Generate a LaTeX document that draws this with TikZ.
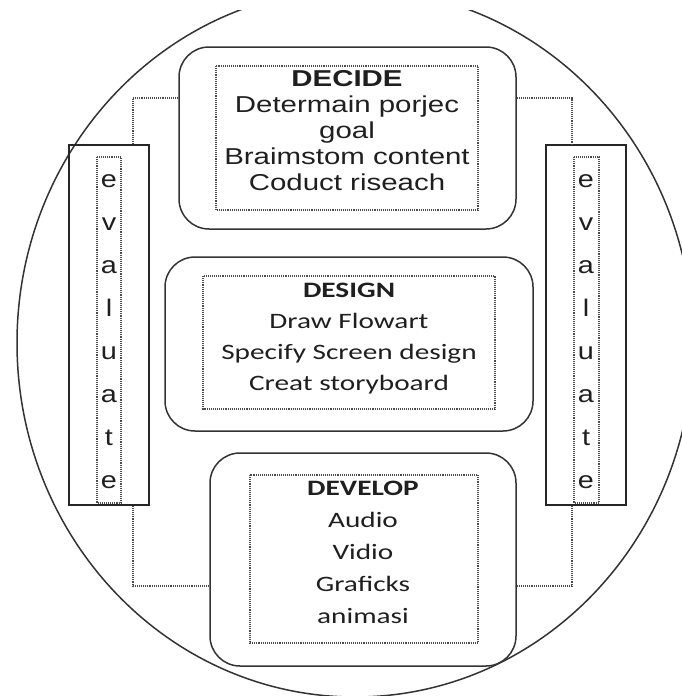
\documentclass[tikz,border=0pt]{standalone}
\usepackage{fontspec}
\setmainfont{Liberation Sans}
\newfontfamily\carlitofont{Carlito}
\usetikzlibrary{positioning}

\tikzset{
  phasebox/.style={draw=black!80, line width=1.5pt, rounded corners=30pt, inner sep=0pt},
  evalbox/.style={draw=black!85, line width=1.6pt, inner sep=0pt, minimum width=80pt, minimum height=360pt},
  inbox/.style={draw=black!70, line width=1.1pt, densely dotted},
  link/.style={draw=black!70, line width=1.1pt, densely dotted},
  rim/.style={draw=black!80, line width=1.5pt},
  arialtxt/.style={align=center, text=black!88, inner sep=0pt, transform shape},
  calibtxt/.style={align=center, text=black!88, inner sep=0pt, transform shape},
}

\begin{document}
\begin{tikzpicture}[x=1pt, y=1pt]
\useasboundingbox (0,0) rectangle (682,-696);

% outer ring, cut off at the top
\begin{scope}
  \clip (0,-10) rectangle (682,-696);
  \draw[rim] (355,-343) ellipse [x radius=338, y radius=354];
\end{scope}

% the three phases
\node[phasebox, minimum width=337pt, minimum height=182pt] (decide) at (347.5,-138) {};
\node[phasebox, minimum width=368pt, minimum height=174pt] (design) at (349,-344) {};
\node[phasebox, minimum width=306pt, minimum height=213pt] (develop) at (363,-559.5) {};

% evaluate bars
\node[evalbox] (evalL) at (109,-325) {};
\node[evalbox] (evalR) at (586,-325) {};

% dotted frames inside
\draw[inbox] (216,-66) rectangle (478,-210);
\draw[inbox] (203,-276) rectangle (495,-409);
\draw[inbox] (250,-475) rectangle (478,-643);
\draw[inbox] (97,-157) rectangle (121,-503);
\draw[inbox] (574,-157) rectangle (599,-503);

% texts
\node[arialtxt, xscale=1.28, font=\fontsize{23}{26}\selectfont] (decidetxt) at (347,-131)
  {\textbf{DECIDE}\\Determain porjec\\goal\\Braimstom content\\Coduct riseach};
\node[calibtxt, xscale=1.33, font=\carlitofont\fontsize{22}{31}\selectfont] (designtxt) at (349,-339)
  {\textbf{DESIGN}\\Draw Flowart\\Specify Screen design\\Creat storyboard};
\node[calibtxt, xscale=1.33, font=\carlitofont\fontsize{22}{32}\selectfont] (developtxt) at (363,-552)
  {\textbf{DEVELOP}\\Audio\\Vidio\\Graficks\\animasi};
\node[arialtxt, xscale=1.2, font=\fontsize{24}{43}\selectfont] (evalLtxt) at (109,-332)
  {e\\v\\a\\l\\u\\a\\t\\e};
\node[arialtxt, xscale=1.2, font=\fontsize{24}{43}\selectfont] (evalRtxt) at (586,-332)
  {e\\v\\a\\l\\u\\a\\t\\e};

% dotted loop
\draw[link] ([yshift=40pt]decide.west) -| ([xshift=24pt]evalL.north);
\draw[link] ([xshift=24pt]evalL.south) |- ([yshift=-26.5pt]develop.west);
\draw[link] ([yshift=40pt]decide.east) -| ([xshift=-14pt]evalR.north);
\draw[link] ([xshift=-14pt]evalR.south) |- ([yshift=-26.5pt]develop.east);
\end{tikzpicture}
\end{document}
